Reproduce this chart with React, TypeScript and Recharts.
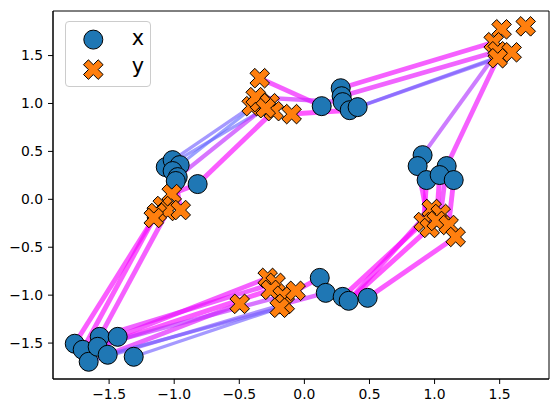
import React from 'react';
import { ScatterChart, Scatter, XAxis, YAxis, Legend, ReferenceArea } from 'recharts';

// "x" point set (blue circles)
const xSetX = [
  -1.065, -1.012, -0.958, -1.012, -0.973, -0.82, -0.988,
  0.133, 0.279, 0.286, 0.294, 0.348, 0.409,
  0.908, 0.87, 1.093, 0.939, 1.039, 1.147,
  0.118, 0.164, 0.294, 0.34, 0.486,
  -1.764, -1.703, -1.657, -1.572, -1.588, -1.511, -1.434, -1.311,
];
const xSetY = [
  0.336, 0.409, 0.357, 0.295, 0.232, 0.159, 0.191,
  0.972, 1.159, 1.076, 1.014, 0.93, 0.962,
  0.461, 0.347, 0.347, 0.201, 0.253, 0.201,
  -0.82, -0.976, -1.018, -1.059, -1.028,
  -1.507, -1.57, -1.695, -1.435, -1.539, -1.622, -1.435, -1.643,
];

// "y" point set (orange crosses)
const ySetX = [
  -0.343, -0.405, -0.343, -0.374, -0.267, -0.236, -0.098, -0.297,
  1.515, 1.7, 1.454, 1.485, 1.592, 1.485,
  0.978, 1.047, 0.916, 0.962, 1.016, 1.108, 1.162,
  -0.282, -0.221, -0.259, -0.497, -0.167, -0.151, -0.067, -0.19,
  -1.019, -1.088, -1.05, -1.134, -1.157, -0.95,
];
const ySetY = [
  1.264, 0.972, 1.014, 1.066, 1.003, 0.92, 0.889, 0.951,
  1.774, 1.805, 1.639, 1.545, 1.534, 1.472,
  -0.101, -0.153, -0.237, -0.299, -0.226, -0.268, -0.393,
  -0.82, -0.872, -0.945, -1.091, -1.007, -1.091, -0.955, -1.132,
  0.055, -0.07, -0.122, -0.143, -0.195, -0.112,
];

// links from an x point to a y point, with a weight (0 = blue, 1 = magenta)
const linkFrom = [1, 2, 0, 4, 5, 7, 10, 11, 8, 9, 12, 11, 13, 15, 16, 14, 17, 18, 15, 21, 22, 22, 23, 19, 20, 30, 27, 28, 29, 25, 31, 26, 29, 24, 25, 27, 6, 5];
const linkTo = [1, 2, 7, 4, 5, 0, 3, 6, 10, 11, 12, 13, 11, 13, 16, 17, 18, 19, 15, 16, 17, 14, 20, 27, 26, 21, 22, 23, 24, 25, 28, 26, 28, 33, 32, 31, 34, 29];
const linkWeight = [0.1, 0.0, 0.05, 0.6, 0.95, 0.9, 0.7, 1.0, 0.9, 0.85, 0.1, 0.2, 0.5, 0.9, 1, 0.95, 1, 0.95, 0.9, 1, 1, 0.95, 0.95, 0.95, 0.7, 0.9, 0.85, 0.95, 0.8, 0.6, 0.1, 0.2, 0.15, 0.95, 0.95, 0.9, 0.95, 0.9];

const xTicks = [-1.5, -1.0, -0.5, 0.0, 0.5, 1.0, 1.5];
const yTicks = [-1.5, -1.0, -0.5, 0.0, 0.5, 1.0, 1.5];
const X_DOMAIN: [number, number] = [-1.931, 1.879];
const Y_DOMAIN: [number, number] = [-1.875, 1.965];

const FONT = 'DejaVu Sans';
const BLUE = '#1f77b4';
const ORANGE = '#ff7f0e';

const xPoints = xSetX.map((v, i) => ({ x: v, y: xSetY[i] }));
const yPoints = ySetX.map((v, i) => ({ x: v, y: ySetY[i] }));

const lineColor = (t: number) => {
  const r = Math.round(100 + (255 - 100) * t);
  const g = Math.round(110 * (1 - t));
  return `rgb(${r},${g},255)`;
};

const fmt = (v: number) => v.toFixed(1).replace('-', '\u2212');

const X_PATH = [
  [-1, -2], [0, -1], [1, -2], [2, -1], [1, 0], [2, 1],
  [1, 2], [0, 1], [-1, 2], [-2, 1], [-1, 0], [-2, -1],
];
const xMarkerPoints = (cx: number, cy: number, s: number) =>
  X_PATH.map(([a, b]) => `${cx + a * s},${cy + b * s}`).join(' ');

const Circle = (props: any) => {
  const { cx, cy } = props;
  if (cx == null || cy == null) return <g />;
  return <circle cx={cx} cy={cy} r={9.5} fill={BLUE} stroke="#000" strokeWidth={1} />;
};

const Cross = (props: any) => {
  const { cx, cy } = props;
  if (cx == null || cy == null) return <g />;
  return <polygon points={xMarkerPoints(cx, cy, 4.9)} fill={ORANGE} stroke="#000" strokeWidth={1} strokeLinejoin="miter" />;
};

const Empty = () => <g />;

const LegendBox = () => (
  <div
    style={{
      width: 86,
      height: 66,
      boxSizing: 'border-box',
      border: '1px solid #cccccc',
      borderRadius: 4,
      background: 'rgba(255,255,255,0.8)',
    }}
  >
    <svg width={84} height={64} style={{ display: 'block' }}>
      <circle cx={27.3} cy={17.6} r={9.5} fill={BLUE} stroke="#000" strokeWidth={1} />
      <polygon points={xMarkerPoints(27.3, 47.6, 4.9)} fill={ORANGE} stroke="#000" strokeWidth={1} />
      <text x={65.7} y={23.3} fontFamily={FONT} fontSize={20.8} fill="#000">x</text>
      <text x={65.7} y={51.3} fontFamily={FONT} fontSize={20.8} fill="#000">y</text>
    </svg>
  </div>
);

export default function App() {
  return (
    <div style={{ position: 'absolute', left: 0, top: 0, width: 559, height: 413, background: '#fff' }}>
      <ScatterChart width={559} height={413} margin={{ top: 11, right: 10, left: 0, bottom: 0 }}>
        <XAxis
          type="number"
          dataKey="x"
          domain={X_DOMAIN}
          allowDataOverflow
          ticks={xTicks}
          tickFormatter={fmt}
          height={34}
          tickSize={5}
          tickMargin={5}
          axisLine={{ stroke: '#000', strokeWidth: 1 }}
          tickLine={{ stroke: '#000', strokeWidth: 1 }}
          tick={{ fill: '#000', fontSize: 13.9, fontFamily: FONT }}
        />
        <YAxis
          type="number"
          dataKey="y"
          domain={Y_DOMAIN}
          allowDataOverflow
          ticks={yTicks}
          tickFormatter={fmt}
          width={53}
          tickSize={5}
          tickMargin={5}
          axisLine={{ stroke: '#000', strokeWidth: 1 }}
          tickLine={{ stroke: '#000', strokeWidth: 1 }}
          tick={{ fill: '#000', fontSize: 13.9, fontFamily: FONT }}
        />
        <ReferenceArea
          x1={X_DOMAIN[0]}
          x2={X_DOMAIN[1]}
          y1={Y_DOMAIN[0]}
          y2={Y_DOMAIN[1]}
          fill="none"
          fillOpacity={0}
          stroke="#000"
          strokeWidth={1}
          ifOverflow="visible"
        />
        {linkFrom.map((fi, k) => {
          const ti = linkTo[k];
          const t = linkWeight[k];
          const seg = [
            { x: xSetX[fi], y: xSetY[fi] },
            { x: ySetX[ti], y: ySetY[ti] },
          ];
          return (
            <Scatter
              key={'link' + k}
              data={seg}
              fill={lineColor(t)}
              line={{ stroke: lineColor(t), strokeWidth: 3.2 + 1.8 * t, strokeOpacity: 0.65 }}
              lineType="joint"
              shape={Empty}
              legendType="none"
              isAnimationActive={false}
            />
          );
        })}
        <Scatter name="x" data={xPoints} fill={BLUE} shape={Circle} isAnimationActive={false} />
        <Scatter name="y" data={yPoints} fill={ORANGE} shape={Cross} isAnimationActive={false} />
        <Legend
          layout="vertical"
          align="center"
          verticalAlign="middle"
          wrapperStyle={{ left: 65, top: 21, width: 86, height: 66 }}
          content={() => <LegendBox />}
        />
      </ScatterChart>
    </div>
  );
}
